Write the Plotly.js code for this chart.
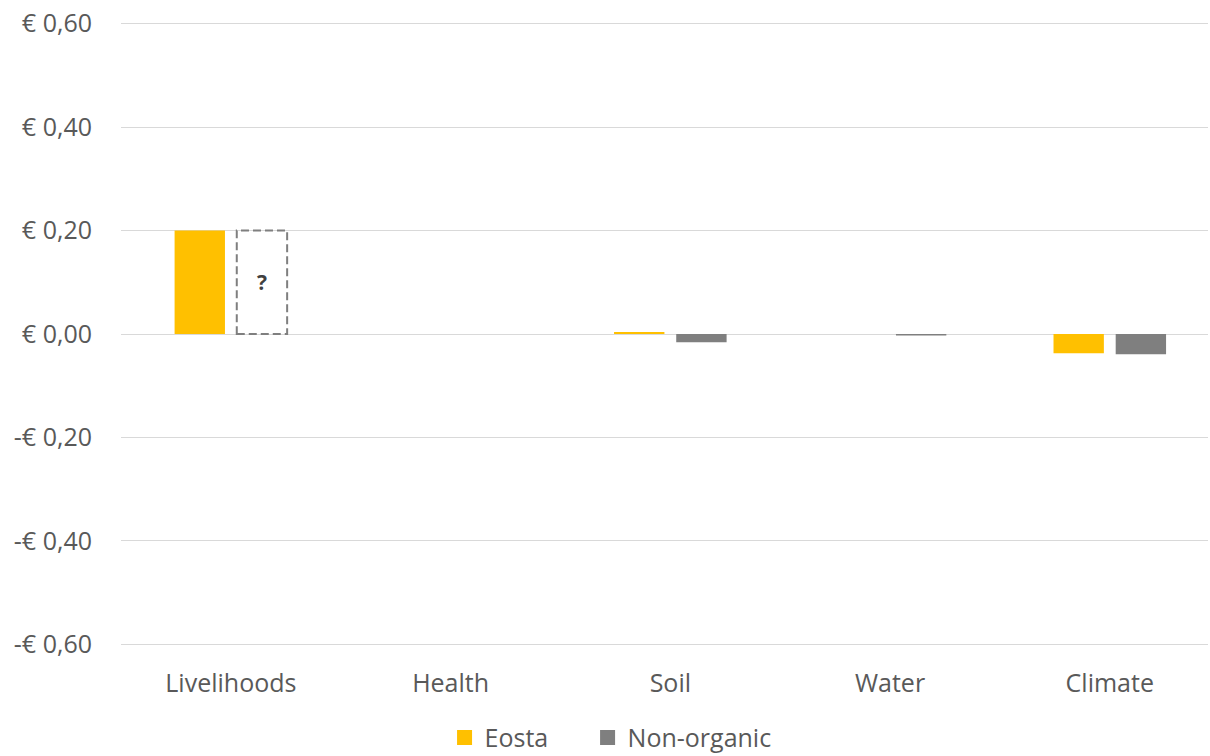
<!DOCTYPE html>
<html>
<head>
<meta charset="utf-8">
<script src="https://cdn.plot.ly/plotly-3.0.1.min.js"></script>
<style>html,body{margin:0;padding:0;background:#fff;overflow:hidden;}#chart{width:1210px;height:756px;}</style>
</head>
<body>
<div id="chart"></div>
<script>
const categories = ["Livelihoods", "Health", "Soil", "Water", "Climate"];
const eosta = [0.20, 0, 0.004, 0, -0.037];
const nonOrganic = [null, 0, -0.016, -0.003, -0.039];
const nonOrganicUnknown = [0.20, null, null, null, null];
const tickVals = [0.6, 0.4, 0.2, 0, -0.2, -0.4, -0.6];
const tickText = ["€ 0,60", "€ 0,40", "€ 0,20", "€ 0,00", "-€ 0,20", "-€ 0,40", "-€ 0,60"];
const seriesNames = ["Eosta", "Non-organic"];
const seriesColors = ["#FFC000", "#7F7F7F"];

const bargap = 0.434, bargroupgap = 0.19;
const font = {family: "Open Sans, sans-serif", size: 25, color: "#595959"};

const traces = [
  {type: "bar", name: seriesNames[0], x: categories, y: eosta, marker: {color: seriesColors[0]}, hoverinfo: "skip", showlegend: false},
  {type: "bar", name: seriesNames[1], x: categories, y: nonOrganic, marker: {color: seriesColors[1]}, hoverinfo: "skip", showlegend: false}
];
const legendIds = ["legend", "legend2"];
seriesNames.forEach((n, i) => traces.push({type: "scatter", mode: "markers", name: n, x: [null], y: [null],
  marker: {symbol: "square", size: 15, color: seriesColors[i]}, showlegend: true, hoverinfo: "skip", legend: legendIds[i]}));

const shapes = [], annotations = [];
const groupW = 1 - bargap, slot = groupW / 2, barW = slot * (1 - bargroupgap);
nonOrganicUnknown.forEach((v, i) => {
  if (v === null) return;
  const c = i + slot / 2;
  shapes.push({type: "rect", xref: "x", yref: "y", x0: c - barW / 2, x1: c + barW / 2, y0: 0, y1: v,
    line: {color: "#7F7F7F", width: 2, dash: "8px,4px"}, fillcolor: "rgba(0,0,0,0)"});
  annotations.push({xref: "x", yref: "y", x: c, y: v / 2, text: "<b>?</b>", showarrow: false,
    font: {family: "Open Sans, sans-serif", size: 21, color: "#404040"}});
});

const legendBase = {orientation: "h", xref: "container", yref: "container", xanchor: "left",
  y: 0.024, yanchor: "middle", font: font, itemclick: false, bgcolor: "rgba(0,0,0,0)"};

const layout = {
  width: 1210, height: 756,
  margin: {l: 121, r: 2, t: 21, b: 109, autoexpand: false},
  paper_bgcolor: "#fff", plot_bgcolor: "#fff",
  font: font,
  barmode: "group", bargap: bargap, bargroupgap: bargroupgap,
  showlegend: true,
  legend: Object.assign({}, legendBase, {x: 0.3674}),
  legend2: Object.assign({}, legendBase, {x: 0.4856}),
  xaxis: {type: "category", range: [-0.5, 4.447], showgrid: false, zeroline: false, showline: false, ticks: "",
    tickfont: font, ticklabelstandoff: 19, fixedrange: true, automargin: false},
  yaxis: {range: [-0.605, 0.605], tickvals: tickVals, ticktext: tickText, showgrid: true, gridcolor: "#d9d9d9",
    gridwidth: 1, zeroline: true, zerolinecolor: "#d9d9d9", zerolinewidth: 1, showline: false, ticks: "",
    ticklabelstandoff: 28, tickfont: font, automargin: false, fixedrange: true},
  shapes: shapes,
  annotations: annotations
};

Plotly.newPlot("chart", traces, layout, {displayModeBar: false, staticPlot: true});
</script>
</body>
</html>
